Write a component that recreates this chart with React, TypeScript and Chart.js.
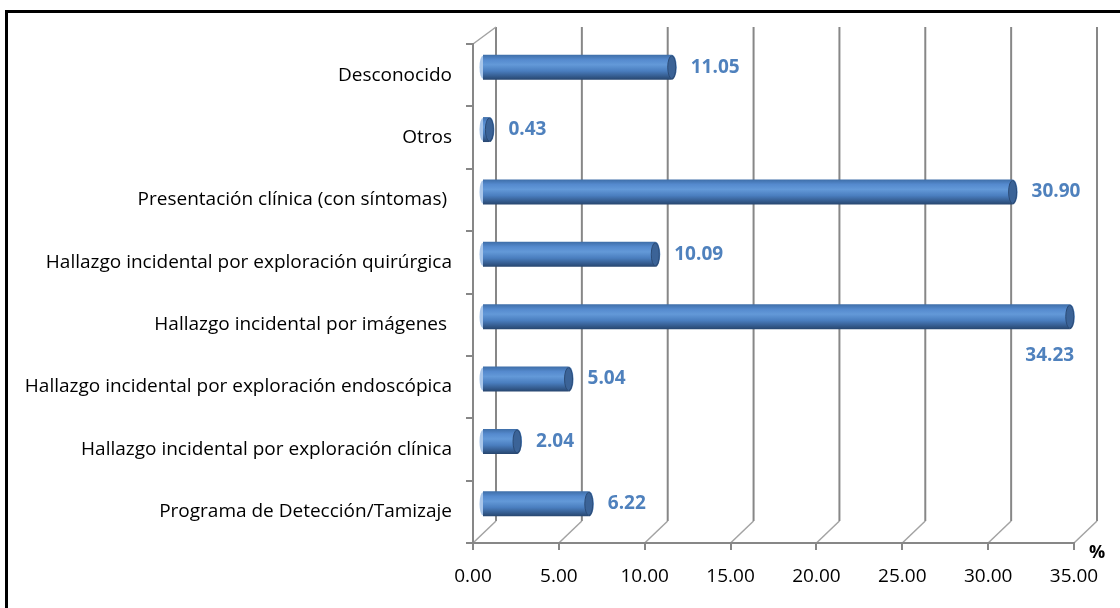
import React, { useEffect, useRef } from "react";
import { Chart, registerables } from "chart.js";

Chart.register(...registerables);

// ---- data ----
const categories: string[] = [
  "Desconocido",
  "Otros",
  "Presentación clínica (con síntomas) ",
  "Hallazgo incidental por exploración quirúrgica",
  "Hallazgo incidental por imágenes ",
  "Hallazgo incidental por exploración endoscópica",
  "Hallazgo incidental por exploración clínica",
  "Programa de Detección/Tamizaje",
];
const values: number[] = [11.05, 0.43, 30.9, 10.09, 34.23, 5.04, 2.04, 6.22];
const xTicks: number[] = [0, 5, 10, 15, 20, 25, 30, 35];
const axisUnit = "%";

// ---- styling constants ----
const FONT = "'Open Sans', 'DejaVu Sans', sans-serif";
const BAR_DX = 9;
const BAR_DY = -8;
const BACK_DX = 23;
const BACK_TOP_UP = 17;
const BACK_BOTTOM_UP = 22;
const BAR_PCT = 0.4;
const GRID = "#878787";
const LABEL_BLUE = "#4f81bd";

function barGradient(ctx: CanvasRenderingContext2D, yTop: number, yBot: number) {
  const g = ctx.createLinearGradient(0, yTop, 0, yBot);
  g.addColorStop(0, "#3e6ea8");
  g.addColorStop(0.2, "#558ace");
  g.addColorStop(0.4, "#6399d8");
  g.addColorStop(0.65, "#4a7ebf");
  g.addColorStop(0.85, "#365e92");
  g.addColorStop(1, "#27466f");
  return g;
}

const wallPlugin = {
  id: "wall3d",
  beforeDraw(chart: any) {
    const { ctx, chartArea } = chart;
    const { left, top, bottom } = chartArea;
    const x = chart.scales.x;
    ctx.save();
    ctx.fillStyle = "#ffffff";
    ctx.fillRect(0, 0, chart.width, chart.height);
    // outer frame
    ctx.strokeStyle = "#000";
    ctx.lineWidth = 3;
    ctx.strokeRect(6.5, 11.5, chart.width + 20, chart.height + 20);
    const backTop = top - BACK_TOP_UP;
    const backBottom = bottom - BACK_BOTTOM_UP;
    for (const v of xTicks) {
      const xf = x.getPixelForValue(v);
      ctx.strokeStyle = GRID;
      ctx.lineWidth = 2;
      ctx.beginPath();
      ctx.moveTo(xf + BACK_DX, backTop);
      ctx.lineTo(xf + BACK_DX, backBottom);
      ctx.stroke();
      ctx.strokeStyle = "#a3a3a3";
      ctx.lineWidth = 1.5;
      ctx.beginPath();
      ctx.moveTo(xf, bottom);
      ctx.lineTo(xf + BACK_DX, backBottom);
      ctx.stroke();
    }
    ctx.strokeStyle = "#a3a3a3";
    ctx.lineWidth = 1.5;
    ctx.beginPath();
    ctx.moveTo(left, top);
    ctx.lineTo(left + BACK_DX, backTop);
    ctx.stroke();
    // unit label
    ctx.fillStyle = "#000";
    ctx.font = `bold 18px ${FONT}`;
    ctx.textAlign = "center";
    ctx.textBaseline = "middle";
    ctx.fillText(axisUnit, chartArea.right + BACK_DX, bottom + 10);
    ctx.restore();
  },
  beforeDatasetsDraw(chart: any) {
    const { ctx } = chart;
    const meta = chart.getDatasetMeta(0);
    ctx.save();
    ctx.translate(BAR_DX, BAR_DY);
    // left (back) caps
    meta.data.forEach((el: any) => {
      const p = el.getProps(["x", "y", "base", "height"], true);
      ctx.fillStyle = "#a9c6ea";
      ctx.beginPath();
      ctx.ellipse(p.base, p.y, 3.5, p.height / 2 - 1, 0, 0, Math.PI * 2);
      ctx.fill();
    });
  },
  afterDatasetsDraw(chart: any) {
    const { ctx } = chart;
    const meta = chart.getDatasetMeta(0);
    meta.data.forEach((el: any) => {
      const p = el.getProps(["x", "y", "base", "height"], true);
      const h = p.height;
      ctx.fillStyle = barGradient(ctx, p.y - h / 2, p.y + h / 2);
      ctx.beginPath();
      ctx.ellipse(p.x, p.y, 5, h / 2, 0, -Math.PI / 2, Math.PI / 2);
      ctx.fill();
      ctx.fillStyle = "#3b6397";
      ctx.strokeStyle = "#2b4b76";
      ctx.lineWidth = 1;
      ctx.beginPath();
      ctx.ellipse(p.x, p.y, 4, h / 2 - 1, 0, 0, Math.PI * 2);
      ctx.fill();
      ctx.stroke();
    });
    ctx.restore();
    // value labels
    ctx.save();
    ctx.font = `bold 19px ${FONT}`;
    ctx.fillStyle = LABEL_BLUE;
    ctx.textBaseline = "middle";
    const limit = chart.chartArea.right + BACK_DX + 8;
    meta.data.forEach((el: any, i: number) => {
      const p = el.getProps(["x", "y"], true);
      const txt = values[i].toFixed(2);
      const w = ctx.measureText(txt).width;
      const bx = p.x + BAR_DX;
      const by = p.y + BAR_DY;
      if (bx + 19 + w > limit) {
        ctx.textAlign = "center";
        ctx.fillText(txt, bx - 20, by + 39);
      } else {
        ctx.textAlign = "left";
        ctx.fillText(txt, bx + 19, by);
      }
    });
    ctx.restore();
  },
};

export default function App() {
  const ref = useRef<HTMLCanvasElement | null>(null);
  useEffect(() => {
    if (!ref.current) return;
    const chart = new Chart(ref.current, {
      type: "bar",
      data: {
        labels: categories,
        datasets: [
          {
            data: values,
            backgroundColor: (c: any) => {
              const ch = c.chart;
              const area = ch.chartArea;
              if (!area || !ch.scales.y) return "#4f81bd";
              const yc = ch.scales.y.getPixelForValue(c.dataIndex);
              const h = ((area.bottom - area.top) / categories.length) * BAR_PCT;
              return barGradient(ch.ctx, yc - h / 2, yc + h / 2);
            },
            borderWidth: 0,
            categoryPercentage: 1,
            barPercentage: BAR_PCT,
          },
        ],
      },
      options: {
        indexAxis: "y",
        responsive: false,
        maintainAspectRatio: false,
        animation: false,
        layout: { padding: { top: 44, right: 46, left: 0, bottom: 0 } },
        plugins: {
          legend: { display: false },
          tooltip: { enabled: false },
          title: { display: false },
        },
        scales: {
          x: {
            min: 0,
            max: 35,
            afterFit: (s: any) => {
              s.height = 65;
            },
            afterBuildTicks: (s: any) => {
              s.ticks = xTicks.map((v) => ({ value: v }));
            },
            ticks: {
              color: "#000",
              font: { family: FONT, size: 19 },
              padding: 15,
              maxRotation: 0,
              callback: (v: any) => Number(v).toFixed(2),
            },
            grid: {
              drawOnChartArea: false,
              drawTicks: true,
              tickLength: 7,
              color: GRID,
              lineWidth: 2,
            },
            border: { display: true, color: GRID, width: 2 },
          },
          y: {
            afterFit: (s: any) => {
              s.width = 473;
            },
            ticks: {
              color: "#000",
              font: { family: FONT, size: 19 },
              padding: 14,
              autoSkip: false,
            },
            grid: {
              drawOnChartArea: false,
              drawTicks: true,
              tickLength: 7,
              color: GRID,
              lineWidth: 2,
            },
            border: { display: true, color: GRID, width: 2 },
          },
        },
      },
      plugins: [wallPlugin],
    } as any);
    return () => chart.destroy();
  }, []);
  return (
    <div style={{ position: "fixed", left: 0, top: 0, width: 1120, height: 608, background: "#fff" }}>
      <canvas ref={ref} width={1120} height={608} style={{ display: "block" }} />
    </div>
  );
}
